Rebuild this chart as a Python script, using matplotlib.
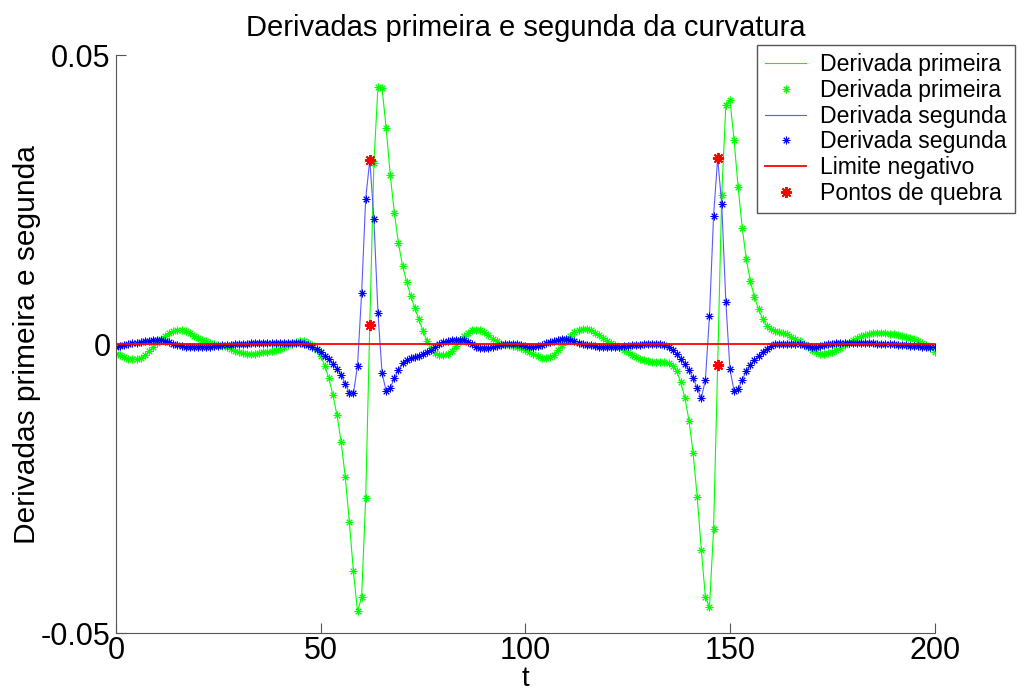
import numpy as np
import matplotlib
matplotlib.use('Agg')
import matplotlib.pyplot as plt

# amostras
t = np.arange(0, 201)

# derivada primeira (verde)
d1 = np.array([
    -0.0016, -0.0019, -0.0022, -0.0025, -0.0026, -0.0026, -0.0024, -0.0019, -0.0012, -0.0005,
    0.0002, 0.0009, 0.0015, 0.0020, 0.0023, 0.0025, 0.0025, 0.0023, 0.0019, 0.0015,
    0.0011, 0.0008, 0.0005, 0.0003, 0.0001, -0.0001, -0.0003, -0.0005, -0.0008, -0.0011,
    -0.0013, -0.0015, -0.0016, -0.0016, -0.0016, -0.0015, -0.0014, -0.0013, -0.0012, -0.0010,
    -0.0008, -0.0005, -0.0002, 0.0001, 0.0004, 0.0005, 0.0005, 0.0003, -0.0002, -0.0010,
    -0.0020, -0.0037, -0.0059, -0.0088, -0.0123, -0.0169, -0.0229, -0.0307, -0.0393, -0.0462,
    -0.0438, -0.0266, 0.0034, 0.0313, 0.0446, 0.0443, 0.0374, 0.0293, 0.0227, 0.0175,
    0.0136, 0.0108, 0.0084, 0.0063, 0.0043, 0.0023, 0.0006, -0.0006, -0.0015, -0.0019,
    -0.0019, -0.0017, -0.0011, -0.0003, 0.0006, 0.0014, 0.0020, 0.0024, 0.0025, 0.0024,
    0.0021, 0.0016, 0.0010, 0.0005, 0.0001, -0.0001, -0.0002, -0.0003, -0.0005, -0.0007,
    -0.0010, -0.0013, -0.0017, -0.0021, -0.0023, -0.0024, -0.0022, -0.0018, -0.0010, -0.0001,
    0.0008, 0.0015, 0.0021, 0.0025, 0.0027, 0.0027, 0.0024, 0.0020, 0.0016, 0.0011,
    0.0006, 0.0002, -0.0002, -0.0005, -0.0009, -0.0014, -0.0018, -0.0022, -0.0025, -0.0027,
    -0.0029, -0.0030, -0.0030, -0.0030, -0.0031, -0.0033, -0.0038, -0.0047, -0.0066, -0.0093,
    -0.0132, -0.0188, -0.0264, -0.0355, -0.0437, -0.0455, -0.0320, -0.0036, 0.0259, 0.0414,
    0.0423, 0.0354, 0.0272, 0.0202, 0.0147, 0.0109, 0.0081, 0.0061, 0.0044, 0.0032,
    0.0026, 0.0023, 0.0021, 0.0020, 0.0017, 0.0013, 0.0009, 0.0005, 0.0000, -0.0005,
    -0.0010, -0.0014, -0.0016, -0.0016, -0.0015, -0.0013, -0.0010, -0.0006, -0.0002, 0.0003,
    0.0007, 0.0011, 0.0014, 0.0016, 0.0018, 0.0019, 0.0019, 0.0019, 0.0019, 0.0018,
    0.0017, 0.0016, 0.0015, 0.0013, 0.0011, 0.0009, 0.0006, 0.0002, -0.0001, -0.0006,
    -0.0013,
])

# derivada segunda (azul)
d2 = np.array([
    -0.0004, -0.0003, -0.0001, 0.0000, 0.0002, 0.0003, 0.0004, 0.0005, 0.0006, 0.0007,
    0.0007, 0.0007, 0.0006, 0.0004, 0.0001, -0.0001, -0.0003, -0.0004, -0.0004, -0.0004,
    -0.0004, -0.0004, -0.0004, -0.0004, -0.0003, -0.0003, -0.0002, -0.0001, -0.0001, 0.0000,
    0.0000, 0.0001, 0.0001, 0.0002, 0.0002, 0.0002, 0.0002, 0.0003, 0.0003, 0.0003,
    0.0003, 0.0003, 0.0003, 0.0003, 0.0003, 0.0002, 0.0001, -0.0001, -0.0004, -0.0008,
    -0.0014, -0.0020, -0.0026, -0.0034, -0.0042, -0.0053, -0.0068, -0.0084, -0.0085, -0.0037,
    0.0088, 0.0252, 0.0319, 0.0217, 0.0054, -0.0050, -0.0081, -0.0075, -0.0059, -0.0044,
    -0.0032, -0.0027, -0.0024, -0.0022, -0.0020, -0.0017, -0.0014, -0.0010, -0.0005, 0.0000,
    0.0004, 0.0006, 0.0007, 0.0008, 0.0008, 0.0007, 0.0004, 0.0000, -0.0004, -0.0006,
    -0.0006, -0.0006, -0.0005, -0.0003, -0.0001, 0.0000, 0.0001, 0.0001, 0.0000, -0.0002,
    -0.0003, -0.0004, -0.0004, -0.0003, -0.0001, 0.0002, 0.0004, 0.0006, 0.0008, 0.0009,
    0.0009, 0.0008, 0.0006, 0.0003, 0.0001, -0.0001, -0.0002, -0.0003, -0.0004, -0.0004,
    -0.0004, -0.0004, -0.0004, -0.0004, -0.0003, -0.0003, -0.0002, -0.0002, -0.0001, 0.0000,
    0.0001, 0.0001, 0.0001, 0.0000, -0.0002, -0.0005, -0.0010, -0.0017, -0.0025, -0.0034,
    -0.0045, -0.0058, -0.0076, -0.0093, -0.0062, 0.0049, 0.0222, 0.0322, 0.0242, 0.0073,
    -0.0043, -0.0080, -0.0078, -0.0061, -0.0047, -0.0035, -0.0027, -0.0020, -0.0014, -0.0008,
    -0.0003, 0.0000, 0.0001, 0.0001, 0.0001, 0.0001, 0.0000, 0.0000, -0.0001, -0.0003,
    -0.0004, -0.0004, -0.0003, -0.0002, 0.0000, 0.0001, 0.0002, 0.0002, 0.0003, 0.0003,
    0.0003, 0.0003, 0.0003, 0.0002, 0.0002, 0.0002, 0.0001, 0.0001, 0.0000, 0.0000,
    0.0000, -0.0001, -0.0001, -0.0002, -0.0003, -0.0003, -0.0003, -0.0004, -0.0004, -0.0004,
    -0.0004,
])

# limite negativo e pontos de quebra
lim_t = [0, 200]
lim_v = [0, 0]
quebra_t = [62, 62, 147, 147]
quebra_v = [0.0319, 0.0034, 0.0322, -0.0036]

yticks = [-0.05, 0, 0.05]
ytick_labels = ['-0.05', '0', '0.05']
xticks = [0, 50, 100, 150, 200]


def main():
    plt.rcParams['font.family'] = ['Liberation Sans', 'DejaVu Sans']
    fig = plt.figure(figsize=(10.27, 6.93), dpi=100)
    ax = fig.add_axes([0.113, 0.0861, 0.797, 0.8341])

    ast = (8, 2, 0)
    ax.plot(t, d1, color=(0, 1, 0), lw=0.8, label='Derivada primeira')
    ax.plot(t, d1, ls='none', marker=ast, ms=5.5, mew=0.7, color=(0, 1, 0), label='Derivada primeira')
    ax.plot(t, d2, color=(0.35, 0.35, 1), lw=0.8, label='Derivada segunda')
    ax.plot(t, d2, ls='none', marker=ast, ms=5.5, mew=0.7, color=(0, 0, 1), label='Derivada segunda')
    ax.plot(lim_t, lim_v, color=(1, 0, 0), lw=1.3, label='Limite negativo')
    ax.plot(quebra_t, quebra_v, ls='none', marker=ast, ms=8, mew=1.4, color=(1, 0, 0), label='Pontos de quebra')

    ax.set_xlim(0, 200)
    ax.set_ylim(-0.05, 0.05)
    ax.set_xticks(xticks)
    ax.set_yticks(yticks)
    ax.set_yticklabels(ytick_labels)
    ax.tick_params(direction='in', length=7, width=0.8, color='#555555', labelsize=22, pad=4)
    ax.tick_params(axis='x', pad=2)

    ax.spines['right'].set_color('none')
    ax.spines['top'].set_color('none')
    ax.spines['left'].set_color('#555555')
    ax.spines['bottom'].set_color('#555555')

    ax.set_title('Derivadas primeira e segunda da curvatura', fontsize=21, pad=14)
    ax.set_xlabel('t', fontsize=20, labelpad=0)
    ax.set_ylabel('Derivadas primeira e segunda', fontsize=21.5, labelpad=0)

    leg = fig.legend(loc='upper left', bbox_to_anchor=(0.737, 0.935), fontsize=16.6,
                     numpoints=1, handlelength=1.8, handletextpad=0.6, labelspacing=0.12,
                     borderpad=0.35, borderaxespad=0, fancybox=False, framealpha=1)
    leg.get_frame().set_edgecolor('#555555')
    leg.get_frame().set_linewidth(1.0)

    fig.savefig('out.png', dpi=100)


if __name__ == '__main__':
    main()
